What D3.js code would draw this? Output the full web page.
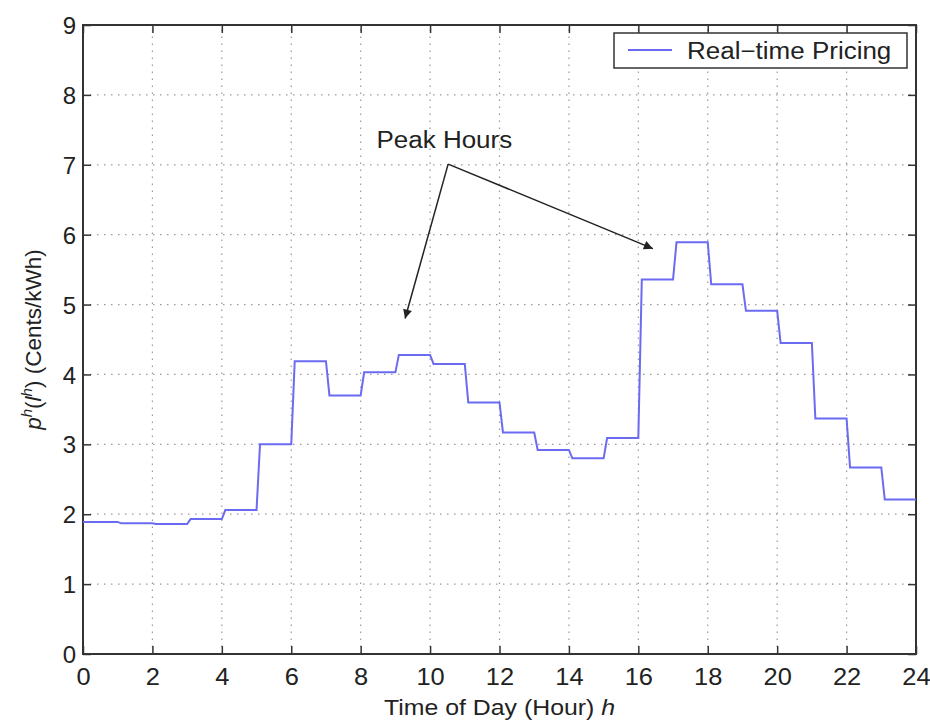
<!DOCTYPE html>
<html>
<head>
<meta charset="utf-8">
<script src="https://cdn.jsdelivr.net/npm/d3@7"></script>
<style>
  body { margin: 0; background: #fff; }
  text { font-family: "Liberation Sans", Arial, sans-serif; fill: #222; }
</style>
</head>
<body>
<script>
// Hourly real-time price (cents/kWh), hour h covers [h, h+1)
let hours = d3.range(0, 24);
let prices = [1.89, 1.87, 1.86, 1.93, 2.06, 3.00, 4.19, 3.70, 4.03, 4.28, 4.15, 3.60,
              3.17, 2.92, 2.80, 3.09, 5.36, 5.89, 5.29, 4.91, 4.45, 3.37, 2.67, 2.21];
let xTicks = d3.range(0, 25, 2);
let yTicks = d3.range(0, 10, 1);
// annotation: text anchor and the two arrow tips, in data units
let peakLabel = { x: 10.41, y: 7.24, text: "Peak Hours" };
let arrowFrom = { x: 10.52, y: 7.01 };
let arrowTips = [{ x: 9.28, y: 4.80 }, { x: 16.42, y: 5.80 }];

let width = 930, height = 723;
let margin = { top: 25, right: 14, bottom: 69, left: 83 };
let stretch = 1.13; // the reference text is a bit wide

let svg = d3.select("body").append("svg")
  .attr("width", width)
  .attr("height", height);

let x = d3.scaleLinear().domain([0, 24]).range([margin.left, width - margin.right]);
let y = d3.scaleLinear().domain([0, 9]).range([height - margin.bottom, margin.top]);

// helper for wide horizontal text
function wideText(px, py, anchor, size) {
  return svg.append("text")
    .attr("transform", `translate(${px},${py}) scale(${stretch},1)`)
    .attr("text-anchor", anchor)
    .style("font-size", size + "px");
}

// dotted grid
let grid = svg.append("g")
  .attr("stroke", "#9a9a9a")
  .attr("stroke-width", 1.2)
  .attr("stroke-dasharray", "1.5,5.5");
grid.selectAll(".gx").data(xTicks.slice(1, -1)).enter().append("line")
  .attr("x1", d => x(d)).attr("x2", d => x(d))
  .attr("y1", y(0)).attr("y2", y(9));
grid.selectAll(".gy").data(yTicks.slice(1)).enter().append("line")
  .attr("x1", x(0)).attr("x2", x(24))
  .attr("y1", d => y(d)).attr("y2", d => y(d));

// axes with inward ticks on all four sides
let tickLen = 8;
let axisStyle = g => {
  g.select(".domain").remove();
  g.selectAll(".tick line").attr("stroke", "#333").attr("stroke-width", 1.5);
  g.selectAll(".tick text").style("font-size", "24px").attr("fill", "#222");
};
svg.append("g")
  .attr("transform", `translate(0,${y(0)})`)
  .call(d3.axisBottom(x).tickValues(xTicks).tickSize(-tickLen).tickPadding(14))
  .call(axisStyle)
  .selectAll(".tick text").attr("transform", "scale(1.06,1)");
svg.append("g")
  .attr("transform", `translate(0,${y(9)})`)
  .call(d3.axisTop(x).tickValues(xTicks).tickSize(-tickLen).tickFormat(""))
  .call(axisStyle);
svg.append("g")
  .attr("transform", `translate(${x(0)},0)`)
  .call(d3.axisLeft(y).tickValues(yTicks).tickSize(-tickLen).tickPadding(7))
  .call(axisStyle)
  .selectAll(".tick text").attr("dy", "0.36em");
svg.append("g")
  .attr("transform", `translate(${x(24)},0)`)
  .call(d3.axisRight(y).tickValues(yTicks).tickSize(-tickLen).tickFormat(""))
  .call(axisStyle);

svg.append("rect")
  .attr("x", x(0)).attr("y", y(9))
  .attr("width", x(24) - x(0)).attr("height", y(0) - y(9))
  .attr("fill", "none").attr("stroke", "#333").attr("stroke-width", 2);

// step line: each hour's price, with a short ramp at the start of the hour
let pts = [[0, prices[0]]];
hours.forEach(h => {
  pts.push([h + 1, prices[h]]);
  if (h < 23) pts.push([h + 1.1, prices[h + 1]]);
});
svg.append("path")
  .datum(pts)
  .attr("fill", "none")
  .attr("stroke", "#6b6bf2")
  .attr("stroke-width", 2)
  .attr("d", d3.line().x(d => x(d[0])).y(d => y(d[1])));

// annotation arrows
svg.append("defs").append("marker")
  .attr("id", "head")
  .attr("viewBox", "0 0 10 10")
  .attr("refX", 10).attr("refY", 5)
  .attr("markerWidth", 14).attr("markerHeight", 9)
  .attr("markerUnits", "userSpaceOnUse")
  .attr("orient", "auto")
  .append("path").attr("d", "M0,0 L10,5 L0,10 Z").attr("fill", "#222");

svg.selectAll(".arrow").data(arrowTips).enter().append("line")
  .attr("x1", x(arrowFrom.x)).attr("y1", y(arrowFrom.y))
  .attr("x2", d => x(d.x)).attr("y2", d => y(d.y))
  .attr("stroke", "#222").attr("stroke-width", 1.5)
  .attr("marker-end", "url(#head)");

wideText(x(peakLabel.x), y(peakLabel.y), "middle", 23).text(peakLabel.text);

// legend
let lg = svg.append("g");
lg.append("rect")
  .attr("x", 614).attr("y", 33).attr("width", 293).attr("height", 35)
  .attr("fill", "#fff").attr("stroke", "#333").attr("stroke-width", 1.5);
lg.append("line")
  .attr("x1", 628).attr("x2", 672).attr("y1", 50).attr("y2", 50)
  .attr("stroke", "#6b6bf2").attr("stroke-width", 2);
wideText(687, 59, "start", 23).text("Real\u2212time Pricing");

// axis labels
let xl = wideText((x(0) + x(24)) / 2, 715, "middle", 22);
xl.append("tspan").text("Time of Day (Hour) ");
xl.append("tspan").style("font-style", "italic").text("h");

let yl = svg.append("text")
  .attr("transform", `translate(41,${(y(0) + y(9)) / 2}) rotate(-90)`)
  .attr("text-anchor", "middle")
  .style("font-size", "22.5px");
yl.append("tspan").style("font-style", "italic").text("p");
yl.append("tspan").style("font-style", "italic").style("font-size", "15px").attr("dy", -9).text("h");
yl.append("tspan").attr("dy", 9).text("(");
yl.append("tspan").style("font-style", "italic").text("l");
yl.append("tspan").style("font-style", "italic").style("font-size", "15px").attr("dy", -9).text("h");
yl.append("tspan").attr("dy", 9).text(") (Cents/kWh)");
</script>
</body>
</html>
